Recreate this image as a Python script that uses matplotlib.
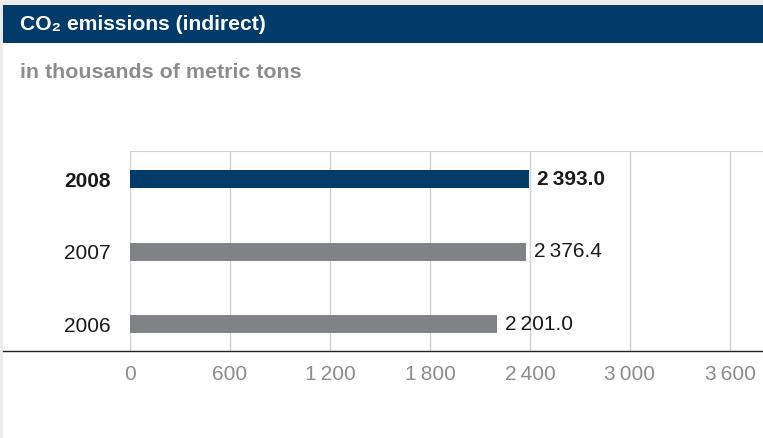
import matplotlib.pyplot as plt
from matplotlib.patches import Rectangle
from matplotlib.lines import Line2D

plt.rcParams['font.family'] = ['Liberation Sans', 'DejaVu Sans']

# indirect CO2 emissions, thousands of metric tons
years = ['2006', '2007', '2008']
values = [2201.0, 2376.4, 2393.0]
ticks = [0, 600, 1200, 1800, 2400, 3000, 3600]

NAVY = '#003b6a'
GREY_BAR = '#808285'
GREY_TXT = '#8c8c8c'
GRID = '#d0d0d0'
FS = 15


def fmt(v, decimals=0):
    s = f'{v:,.{decimals}f}'
    return s.replace(',', '\u2009')


fig = plt.figure(figsize=(7.63, 4.38), dpi=100)
fig.patch.set_facecolor('#ebebeb')

# white panel and header bar
fig.add_artist(Rectangle((3 / 763, 0), 1, 1 - 5 / 438, transform=fig.transFigure,
                         facecolor='white', edgecolor='none', zorder=0))
fig.add_artist(Rectangle((3 / 763, 1 - 43 / 438), 1, 38 / 438, transform=fig.transFigure,
                         facecolor=NAVY, edgecolor='none', zorder=1))
fig.text(20 / 763, 1 - 25 / 438, 'CO\u2082 emissions (indirect)', color='white',
         fontsize=15.2, fontweight='bold', va='center', ha='left')
fig.text(20 / 763, 1 - 73 / 438, 'in thousands of metric tons', color=GREY_TXT,
         fontsize=15.4, fontweight='bold', va='center', ha='left')

ax = fig.add_axes([130 / 763, 1 - 351 / 438, (763 - 130) / 763, 200 / 438])
ax.set_facecolor('none')
ax.set_xlim(0, 3798)
ax.set_ylim(-0.37, 2.39)

colors = [GREY_BAR, GREY_BAR, NAVY]
pos = list(range(len(years)))
ax.barh(pos, values, height=0.25, color=colors, zorder=3)

for i, v in enumerate(values):
    bold = i == len(values) - 1
    ax.text(v + 50, i, fmt(v, 1), va='center', ha='left', fontsize=FS,
            color='#1a1a1a', fontweight='bold' if bold else 'normal')

ax.set_yticks(pos)
ax.set_yticklabels(years, fontsize=FS, color='#1a1a1a')
ax.get_yticklabels()[-1].set_fontweight('bold')
ax.set_xticks(ticks)
ax.set_xticklabels([fmt(t) for t in ticks], fontsize=FS, color=GREY_TXT)
ax.tick_params(length=0)
ax.tick_params(axis='x', pad=10)
ax.tick_params(axis='y', pad=14)

for t in ticks:
    ax.axvline(t, color=GRID, lw=1, zorder=1)
ax.axhline(2.39, color=GRID, lw=1.5, zorder=1)
for s in ax.spines.values():
    s.set_visible(False)

# baseline running across the panel
fig.add_artist(Line2D([3 / 763, 1], [1 - 351 / 438] * 2, transform=fig.transFigure,
                      color='#222222', lw=1, zorder=5))

fig.savefig('out.png', dpi=100, facecolor=fig.get_facecolor())
